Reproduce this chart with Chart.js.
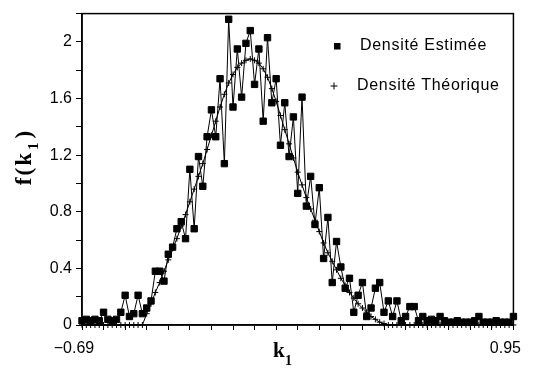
<!DOCTYPE html>
<html><head><meta charset="utf-8">
<script src="https://cdn.jsdelivr.net/npm/chart.js@4/dist/chart.umd.min.js"></script>
<style>html,body{margin:0;padding:0;background:#fff}#wrap{width:538px;height:371px}</style>
</head><body><div id="wrap"><canvas id="c" width="538" height="371"></canvas></div>
<script>
const kValues = [-0.69,-0.6736,-0.6572,-0.6408,-0.6244,-0.608,-0.5916,-0.5752,-0.5588,-0.5424,
 -0.526,-0.5096,-0.4932,-0.4768,-0.4604,-0.444,-0.4276,-0.4112,-0.3948,-0.3784,
 -0.362,-0.3456,-0.3292,-0.3128,-0.2964,-0.28,-0.2636,-0.2472,-0.2308,-0.2144,
 -0.198,-0.1816,-0.1652,-0.1488,-0.1324,-0.116,-0.0996,-0.0832,-0.0668,-0.0504,
 -0.034,-0.0176,-0.0012,0.0152,0.0316,0.048,0.0644,0.0808,0.0972,0.1136,
 0.13,0.1464,0.1628,0.1792,0.1956,0.212,0.2284,0.2448,0.2612,0.2776,
 0.294,0.3104,0.3268,0.3432,0.3596,0.376,0.3924,0.4088,0.4252,0.4416,
 0.458,0.4744,0.4908,0.5072,0.5236,0.54,0.5564,0.5728,0.5892,0.6056,
 0.622,0.6384,0.6548,0.6712,0.6876,0.704,0.7204,0.7368,0.7532,0.7696,
 0.786,0.8024,0.8188,0.8352,0.8516,0.868,0.8844,0.9008,0.9172,0.9336,0.95];
const estimatedDensity = [0.03,0.04,0.03,0.04,0.03,0.09,0.04,0.03,0.04,0.09,
 0.21,0.06,0.08,0.21,0.08,0.12,0.17,0.38,0.38,0.31,
 0.5,0.55,0.68,0.73,0.61,1.1,0.68,1.19,0.98,1.33,
 1.52,1.33,1.74,1.14,2.16,1.54,1.95,1.61,1.99,2.08,
 1.70,1.95,1.44,2.03,1.57,1.74,1.27,1.57,1.19,1.47,
 0.93,1.61,0.84,1.05,0.71,0.97,0.47,0.76,0.3,0.59,
 0.41,0.26,0.33,0.09,0.21,0.3,0.06,0.12,0.26,0.3,
 0.09,0.17,0.06,0.17,0.03,0.06,0.13,0.13,0.03,0.06,
 0.03,0.04,0.03,0.06,0.03,0.02,0.02,0.03,0.02,0.02,
 0.02,0.03,0.06,0.02,0.02,0.02,0.03,0.02,0.02,0.02,0.06];
const theoreticalDensity = [0,0,0,0,0,0,0,0,0,0,
 0,0,0,0,0,0.08,0.15,0.23,0.3,0.38,
 0.46,0.54,0.61,0.7,0.78,0.87,0.96,1.05,1.14,1.24,
 1.34,1.44,1.54,1.63,1.71,1.77,1.82,1.85,1.87,1.88,
 1.87,1.85,1.81,1.75,1.67,1.58,1.48,1.38,1.28,1.18,
 1.08,0.99,0.9,0.82,0.74,0.66,0.58,0.51,0.45,0.39,
 0.33,0.28,0.23,0.19,0.15,0.12,0.09,0.06,0.04,0.02,
 0.01,0,0,0,0,0,0,0,0,0,
 0,0,0,0,0,0,0,0,0,0,
 0,0,0,0,0,0,0,0,0,0,0];
const xTickLabels = ['\u22120.69','0.95'];
const yTickLabels = ['0','0.4','0.8','1.2','1.6','2'];
const seriesNames = ['Densit\u00e9 Estim\u00e9e','Densit\u00e9 Th\u00e9orique'];

const xMin = -0.69, xMax = 0.95, xDivisions = 20;
const yMin = 0, yMax = 2.2, yStep = 0.2;

const frame = {
  id:'frame',
  afterDraw(chart){
    const {ctx, chartArea:a} = chart;
    ctx.save();
    ctx.strokeStyle = '#000'; ctx.lineWidth = 1.5;
    ctx.strokeRect(a.left, a.top, a.right - a.left, a.bottom - a.top);
    // legend
    ctx.fillStyle = '#000';
    ctx.fillRect(334, 43, 6.5, 6.5);
    ctx.lineWidth = 1;
    ctx.beginPath();
    ctx.moveTo(330.5, 86); ctx.lineTo(337.5, 86);
    ctx.moveTo(334, 82.5); ctx.lineTo(334, 89.5);
    ctx.stroke();
    ctx.font = '16px "Liberation Sans", Arial, sans-serif';
    ctx.letterSpacing = '0.7px';
    ctx.textBaseline = 'middle'; ctx.textAlign = 'left';
    ctx.fillText(seriesNames[0], 360, 46);
    ctx.fillText(seriesNames[1], 357, 86);
    ctx.letterSpacing = '0px';
    // x title k1
    ctx.textBaseline = 'alphabetic';
    ctx.font = 'bold 21px "Liberation Serif", serif';
    ctx.fillText('k', 273, 357);
    ctx.font = 'bold 14px "Liberation Serif", serif';
    ctx.fillText('1', 285, 365);
    // y title f(k1)
    ctx.translate(31, 157);
    ctx.rotate(-Math.PI/2);
    ctx.letterSpacing = '2px';
    const big = 'bold 23px "Liberation Serif", serif', small = 'bold 15px "Liberation Serif", serif';
    const p1 = 'f(k', p3 = ')';
    ctx.font = small;
    const w2 = ctx.measureText('1').width;
    ctx.font = big;
    const w1 = ctx.measureText(p1).width, w3 = ctx.measureText(p3).width;
    let x0 = -(w1 + w2 + 3 + w3) / 2;
    ctx.fillText(p1, x0, 0);
    ctx.font = small;
    ctx.fillText('1', x0 + w1 + 1, 7);
    ctx.font = big;
    ctx.fillText(p3, x0 + w1 + w2 + 3, 0);
    ctx.restore();
  }
};

new Chart(document.getElementById('c'), {
  type:'scatter',
  data:{datasets:[
    {label:seriesNames[0], data:kValues.map((k,i)=>({x:k,y:estimatedDensity[i]})),
     showLine:true, borderColor:'#000', borderWidth:1, pointStyle:'rect', pointRadius:4.5,
     pointBackgroundColor:'#000', pointBorderColor:'#000', pointBorderWidth:1, clip:6},
    {label:seriesNames[1], data:kValues.map((k,i)=>({x:k,y:theoreticalDensity[i]})),
     showLine:true, borderColor:'#000', borderWidth:1, pointStyle:'cross', pointRadius:3,
     pointBorderColor:'#000', pointBorderWidth:1, clip:6}
  ]},
  options:{
    responsive:false, animation:false, devicePixelRatio:1,
    layout:{padding:{top:6,right:21,left:0,bottom:0}},
    plugins:{legend:{display:false}, tooltip:{enabled:false}},
    scales:{
      x:{type:'linear', min:xMin, max:xMax,
        afterBuildTicks:s=>{ s.ticks=[]; for(let k=0;k<=xDivisions;k++) s.ticks.push({value:xMin+k*(xMax-xMin)/xDivisions}); },
        afterFit:s=>{ s.height=46; },
        grid:{display:true, drawOnChartArea:false, drawTicks:true, tickLength:5, color:'#000', lineWidth:1},
        border:{display:true, color:'#000', width:1.5},
        ticks:{autoSkip:false, maxRotation:0, minRotation:0, padding:9, labelOffset:-8, color:'#000',
          font:{family:'"Liberation Sans", Arial, sans-serif', size:16},
          callback:(v,i,t)=> i===0 ? xTickLabels[0] : (i===t.length-1 ? xTickLabels[1] : '')}
      },
      y:{type:'linear', min:yMin, max:yMax,
        afterBuildTicks:s=>{ s.ticks=[]; for(let k=0;k<=Math.round((yMax-yMin)/yStep);k++) s.ticks.push({value:yMin+k*yStep}); },
        afterFit:s=>{ s.width=82; },
        grid:{display:true, drawOnChartArea:false, drawTicks:true, tickLength:6, color:'#000', lineWidth:1},
        border:{display:true, color:'#000', width:1.5},
        ticks:{autoSkip:false, padding:4, color:'#000',
          font:{family:'"Liberation Sans", Arial, sans-serif', size:16},
          callback:v=>{ const s=String(Math.round(v*10)/10); return yTickLabels.includes(s) ? s : ''; }}
      }
    }
  },
  plugins:[frame]
});
</script></body></html>
